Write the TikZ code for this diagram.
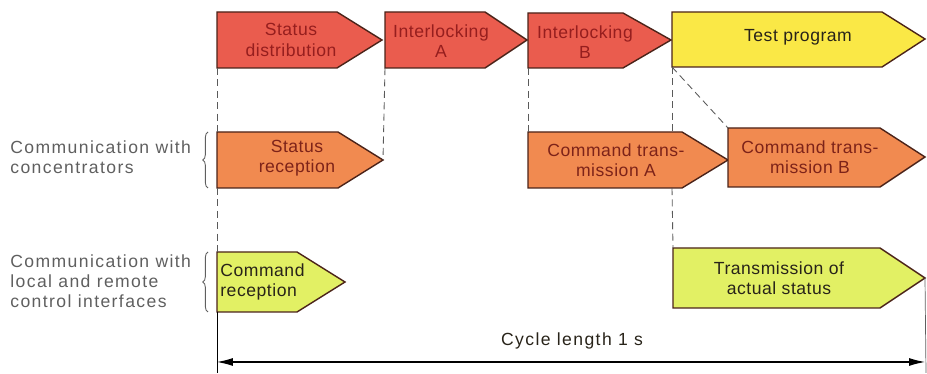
\documentclass[tikz,border=0pt]{standalone}
\usepackage{fontspec}
\setmainfont{Liberation Sans}[LetterSpace=3]
\newfontfamily\sidefont{Liberation Sans}[LetterSpace=8]
\usepackage{tikz}
\usetikzlibrary{arrows.meta, decorations.pathreplacing}

\definecolor{redbox}{RGB}{234,92,78}
\definecolor{redtext}{RGB}{150,30,30}
\definecolor{yellowbox}{RGB}{250,232,70}
\definecolor{orangebox}{RGB}{241,138,80}
\definecolor{orangetext}{RGB}{125,35,25}
\definecolor{limebox}{RGB}{226,240,100}
\definecolor{darktext}{RGB}{40,35,25}
\definecolor{boxline}{RGB}{75,35,25}
\definecolor{sidegray}{RGB}{95,95,95}
\definecolor{cutgray}{RGB}{90,90,90}

\begin{document}
\begin{tikzpicture}[x=0.02cm, y=-0.02cm,
  box/.style={draw=boxline, line width=0.8pt, line join=miter},
  boxtext/.style={align=center, inner sep=0pt, font=\fontsize{10}{11.5}\selectfont},
  sidetext/.style={align=left, anchor=west, inner sep=0pt, text=sidegray, font=\sidefont\fontsize{10}{11.3}\selectfont},
  cut/.style={draw=cutgray, line width=0.5pt, dash pattern=on 4pt off 2.5pt},
  sidebrace/.style={draw=sidegray, line width=0.5pt, decorate, decoration={brace, amplitude=3pt}}
]

\useasboundingbox (0,0) rectangle (927,374);

% row 1
\filldraw[box, fill=redbox] (217,12) -- (337,12) -- (382,40) -- (337,68) -- (217,68) coordinate (sdist-sw) -- cycle;
\node[boxtext, text=redtext] (sdist) at (291,40) {Status\\distribution};
\filldraw[box, fill=redbox] (385,12) -- (485,12) -- (527,40) -- (485,68) -- (385,68) coordinate (ilA-sw) -- cycle;
\node[boxtext, text=redtext] (ilA) at (441,41) {Interlocking\\A};
\filldraw[box, fill=redbox] (528,13) -- (623,13) -- (671,40) -- (623,68) -- (528,68) coordinate (ilB-sw) -- cycle;
\node[boxtext, text=redtext] (ilB) at (585,42) {Interlocking\\B};
\filldraw[box, fill=yellowbox] (672,12) -- (882,12) -- (925,39) -- (882,67) -- (672,67) coordinate (test-sw) -- cycle;
\node[boxtext, text=darktext] (test) at (798,37) {Test program};

% row 2
\filldraw[box, fill=orangebox] (217,132) coordinate (sreq-nw) -- (338,132) -- (383,160) coordinate (sreq-tip) -- (338,188) -- (217,188) coordinate (sreq-sw) -- cycle;
\node[boxtext, text=orangetext] (sreq) at (297,158) {Status\\reception};
\filldraw[box, fill=orangebox] (528,132) coordinate (cmdA-nw) -- (682,132) -- (728,160) -- (682,188) -- (528,188) -- cycle;
\coordinate (cmdA-cut) at (672,188);
\node[boxtext, text=orangetext] (cmdA) at (616,160) {Command trans-\\mission A};
\filldraw[box, fill=orangebox] (728,128) coordinate (cmdB-nw) -- (880,128) -- (925,157) -- (880,187) -- (728,187) -- cycle;
\node[boxtext, text=orangetext] (cmdB) at (810,157) {Command trans-\\mission B};

% row 3
\filldraw[box, fill=limebox] (217,252) coordinate (crec-nw) -- (297,252) -- (345,282) -- (297,312) -- (217,312) coordinate (crec-sw) -- cycle;
\node[boxtext, text=darktext, align=left, anchor=west] (crec) at (220,282) {Command\\reception};
\filldraw[box, fill=limebox] (673,248) coordinate (tas-nw) -- (880,248) -- (925,278) coordinate (tas-tip) -- (880,308) -- (673,308) -- cycle;
\node[boxtext, text=darktext] (tas) at (779,278) {Transmission of\\actual status};

% dashed cuts
\draw[cut] (sdist-sw) -- (sreq-nw);
\draw[cut] (sreq-sw) -- (crec-nw);
\draw[cut] (ilA-sw) -- (sreq-tip);
\draw[cut] (ilB-sw) -- (cmdA-nw);
\draw[cut] (test-sw) -- (cmdA-cut |- cmdA-nw);
\draw[cut] (cmdA-cut) -- (tas-nw);
\draw[cut] (test-sw) -- (cmdB-nw);

% side labels
\node[sidetext] (conc) at (10,157) {Communication with\\concentrators};
\draw[sidebrace] (208,188) -- (208,132);
\node[sidetext] (ifc) at (10,281) {Communication with\\local and remote\\control interfaces};
\draw[sidebrace] (208,312) -- (208,252);

% cycle
\coordinate (cyc-l) at (217,362);
\coordinate (cyc-r) at (925,362);
\draw[line width=0.5pt] (crec-sw) -- (217,373);
\draw[line width=0.4pt, draw=sidegray] (tas-tip) -- (926,373);
\draw[line width=0.6pt, {Latex[length=9pt,width=4.5pt]}-{Latex[length=9pt,width=4.5pt]}] (cyc-l) -- (cyc-r);
\node[sidetext, anchor=center, text=darktext] (cyc) at (572,341) {Cycle length 1 s};

\end{tikzpicture}
\end{document}
